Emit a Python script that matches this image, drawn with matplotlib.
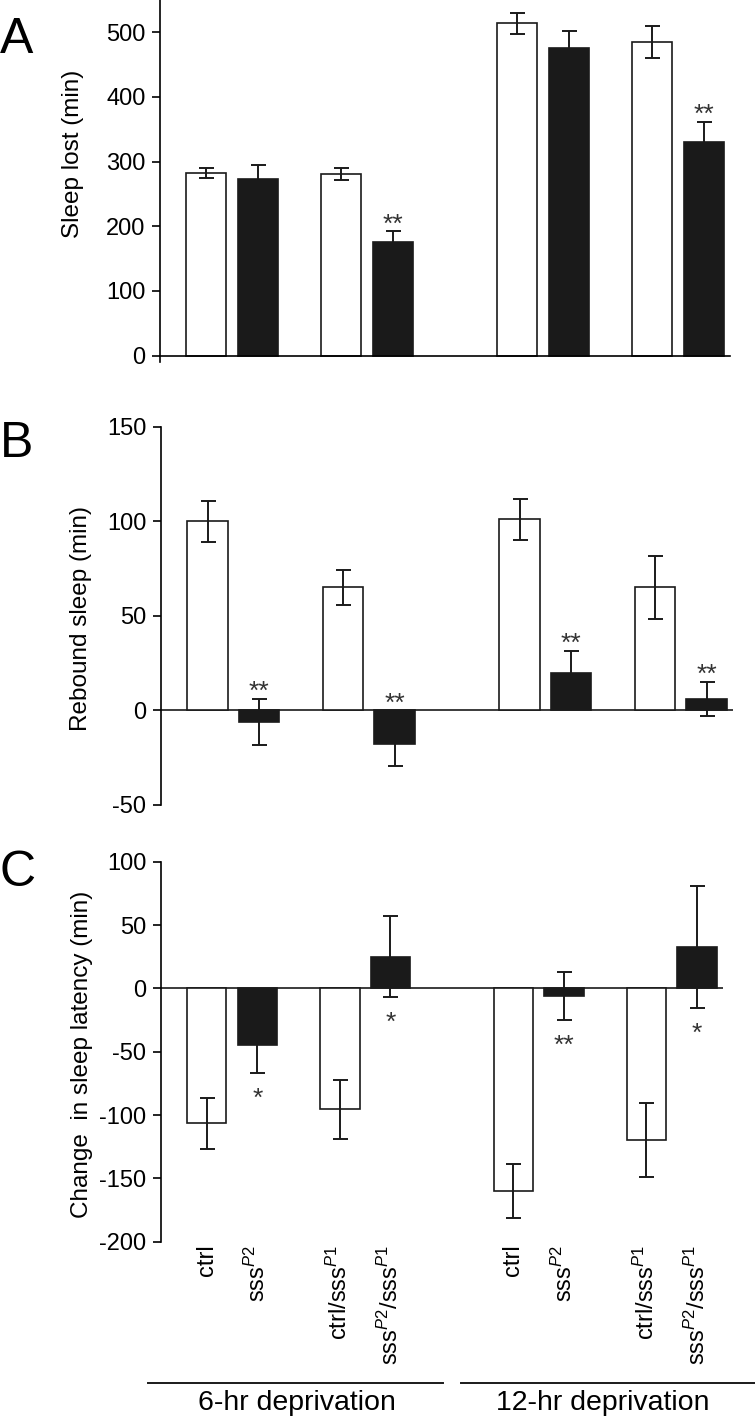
import numpy as np
import matplotlib
matplotlib.use('Agg')
import matplotlib.pyplot as plt
from matplotlib.lines import Line2D

plt.rcParams['font.family'] = ['Liberation Sans', 'DejaVu Sans']
plt.rcParams['mathtext.fontset'] = 'custom'
plt.rcParams['mathtext.rm'] = 'Liberation Sans'
plt.rcParams['mathtext.it'] = 'Liberation Sans:italic'
plt.rcParams['axes.unicode_minus'] = False

# genotype order: ctrl, sss^P2, ctrl/sss^P1, sss^P2/sss^P1 ; 6-hr then 12-hr
genotypes = ['ctrl', r'sss$^{\mathit{P2}}$', r'ctrl/sss$^{\mathit{P1}}$',
             r'sss$^{\mathit{P2}}$/sss$^{\mathit{P1}}$'] * 2
groups = ['6-hr deprivation', '12-hr deprivation']

sleep_lost = [282, 273, 281, 176, 514, 475, 485, 331]
sleep_lost_err = [8, 22, 9, 16, 16, 27, 25, 30]
sleep_lost_sig = ['', '', '', '**', '', '', '', '**']

rebound = [100, -6, 65, -18, 101, 20, 65, 6]
rebound_err = [10.7, 12.3, 9.4, 11.4, 10.7, 11.6, 16.8, 9]
rebound_sig = ['', '**', '', '**', '', '**', '', '**']

latency = [-106.6, -44.7, -95.6, 25, -160, -5.8, -119.8, 32.7]
latency_err = [20, 22, 23, 31.8, 21, 19, 29, 48]
latency_sig = ['', '*', '', '*', '', '**', '', '*']

W, H = 755, 1419
fig = plt.figure(figsize=(W / 100, H / 100), dpi=100)
black = '#1a1a1a'

def add_box(left, right, top, bottom):
    return fig.add_axes([left / W, 1 - bottom / H, (right - left) / W, (bottom - top) / H])

pair = np.array([0, 1, 2.62, 3.62])
x = np.concatenate([pair, pair + 6.04])
fills = ['white', black] * 4

def draw(ax, vals, errs, sig, below=False):
    ax.bar(x, vals, width=0.78, color=fills, edgecolor=black, linewidth=1.2, zorder=2)
    ax.errorbar(x, vals, yerr=errs, fmt='none', ecolor=black, elinewidth=1.4,
                capsize=5.4, capthick=1.4, zorder=3)
    for xi, v, e, s in zip(x, vals, errs, sig):
        if not s:
            continue
        if below:
            ax.annotate(s, (xi, min(v - e, 0)), xytext=(0, -23.5), textcoords='offset points',
                        ha='center', va='baseline', fontsize=19, color='#333333')
        else:
            ax.annotate(s, (xi, max(v + e, 0)), xytext=(0, 0), textcoords='offset points',
                        ha='center', va='baseline', fontsize=19, color='#333333')
    ax.set_xlim(-0.9, 10.17)
    for sp in ['top', 'right']:
        ax.spines[sp].set_visible(False)
    ax.spines['left'].set_linewidth(1.2)
    ax.tick_params(axis='y', length=6, width=1.2, labelsize=17, pad=4.5)

axA = add_box(160, 730, 0, 362)
draw(axA, sleep_lost, sleep_lost_err, sleep_lost_sig)
axA.set_ylim(-10, 550)
axA.set_yticks(np.arange(0, 501, 100))
axA.spines['bottom'].set_position(('data', 0))
axA.spines['bottom'].set_linewidth(1.2)
axA.set_xticks([])
axA.set_ylabel('Sleep lost (min)', fontsize=17.5)
axA.yaxis.label.set_verticalalignment('center')
axA.yaxis.set_label_coords(-0.152, 0.575)

axB = add_box(161, 733, 426.7, 805)
draw(axB, rebound, rebound_err, rebound_sig)
axB.set_ylim(-50, 150)
axB.set_yticks(np.arange(-50, 151, 50))
axB.spines['bottom'].set_visible(False)
axB.axhline(0, color=black, lw=1.2, zorder=1)
axB.set_xticks([])
axB.set_ylabel('Rebound sleep (min)', fontsize=17.5)
axB.yaxis.label.set_verticalalignment('center')
axB.yaxis.set_label_coords(-0.14, 0.494)

axC = add_box(161, 723, 861.7, 1241.7)
draw(axC, latency, latency_err, latency_sig, below=True)
axC.set_ylim(-200, 100)
axC.set_yticks(np.arange(-200, 101, 50))
axC.spines['bottom'].set_visible(False)
axC.axhline(0, color=black, lw=1.2, zorder=1)
axC.set_xticks(x)
axC.set_xticklabels(genotypes, rotation=90, fontsize=17)
axC.tick_params(axis='x', length=0, pad=2)
axC.set_ylabel('Change  in sleep latency (min)', fontsize=17.5)
axC.yaxis.label.set_verticalalignment('center')
axC.yaxis.set_label_coords(-0.14, 0.4926)

# panel letters
for letter, base in zip(['A', 'B', 'C'], [53, 457, 886]):
    fig.text(0.0, 1 - base / H, letter, fontsize=36, ha='left', va='baseline')

# group brackets
for (x0, x1), xc, name in zip([(148, 443), (461, 755)], [297, 603], groups):
    fig.add_artist(Line2D([x0 / W, x1 / W], [1 - 1383 / H] * 2, color=black, lw=1.4))
    fig.text(xc / W, 1 - 1403 / H, name, ha='center', va='center', fontsize=20.5)

fig.savefig('out.png', dpi=100)
